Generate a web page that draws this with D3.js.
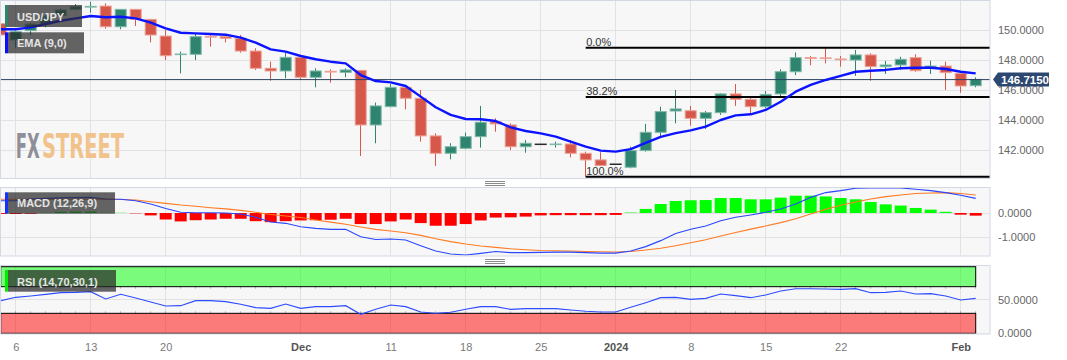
<!DOCTYPE html>
<html><head><meta charset="utf-8">
<script src="https://cdn.jsdelivr.net/npm/d3@7"></script>
<style>
html,body{margin:0;padding:0;background:#fff;}
svg{display:block;font-family:"Liberation Sans",Arial,sans-serif;}
</style></head><body>
<svg id="c" width="1067" height="360"></svg>
<script>
// ---------- DATA ----------
const dates = ['2023-11-03',
 '2023-11-06','2023-11-07','2023-11-08','2023-11-09','2023-11-10',
 '2023-11-13','2023-11-14','2023-11-15','2023-11-16','2023-11-17',
 '2023-11-20','2023-11-21','2023-11-22','2023-11-23','2023-11-24',
 '2023-11-27','2023-11-28','2023-11-29','2023-11-30','2023-12-01',
 '2023-12-04','2023-12-05','2023-12-06','2023-12-07','2023-12-08',
 '2023-12-11','2023-12-12','2023-12-13','2023-12-14','2023-12-15',
 '2023-12-18','2023-12-19','2023-12-20','2023-12-21','2023-12-22',
 '2023-12-25','2023-12-26','2023-12-27','2023-12-28','2023-12-29',
 '2024-01-01','2024-01-02','2024-01-03','2024-01-04','2024-01-05',
 '2024-01-08','2024-01-09','2024-01-10','2024-01-11','2024-01-12',
 '2024-01-15','2024-01-16','2024-01-17','2024-01-18','2024-01-19',
 '2024-01-22','2024-01-23','2024-01-24','2024-01-25','2024-01-26',
 '2024-01-29','2024-01-30','2024-01-31','2024-02-01','2024-02-02'];

const open = [150.45,
 149.36,149.98,150.42,151.0,151.4, 151.55,151.62,150.24,151.4,150.73,
 149.62,148.38,148.4,149.6,149.58, 149.47,148.62,147.47,147.29,148.2,
 146.87,147.27,147.2,147.33,143.69, 144.91,146.2,145.47,142.96,141.8,
 142.13,142.91,143.91,143.69,142.24, 142.4,142.38,142.42,141.8,141.36,
 141.07,140.87,141.98,143.2,144.62, 144.64,144.13,144.51,145.76,145.4,
 144.91,145.76,147.24,148.18,148.16, 148.09,148.02,148.36,147.58,147.69,
 148.18,147.47,147.62,147.13,146.31];
const high = [150.6,
 150.0,150.5,151.0,151.45,151.76, 151.9,151.8,151.4,151.42,150.76,
 150.02,148.58,149.8,149.69,149.73, 149.69,148.8,147.91,148.58,148.36,
 147.47,147.4,147.47,147.36,145.18, 146.42,146.36,146.02,143.13,142.47,
 143.18,144.96,144.13,143.8,142.69, 142.4,142.58,142.69,141.91,141.87,
 141.07,142.24,143.76,144.91,146.02, 144.96,144.62,145.8,146.42,145.53,
 145.96,147.4,148.53,148.29,148.8, 148.29,148.69,148.47,147.96,148.24,
 148.4,147.98,147.91,147.18,146.87];
const low = [149.2,
 148.85,149.7,150.2,150.8,151.33, 151.18,150.11,150.07,150.29,149.2,
 148.02,147.13,148.02,148.91,149.2, 148.51,147.36,146.64,146.8,146.69,
 146.2,146.51,146.87,141.62,142.47, 144.87,144.73,142.58,140.96,141.4,
 142.07,142.18,143.24,142.02,141.84, 142.4,142.18,141.53,140.24,140.98,
 141.07,140.8,141.91,142.87,143.8, 143.64,143.42,144.36,144.96,144.42,
 144.8,145.58,147.02,147.67,147.8, 147.58,146.96,146.64,147.09,147.36,
 147.24,147.09,146.02,145.84,146.2];
const close = [149.69,
 149.91,150.42,150.9,151.36,151.58, 151.6,150.24,151.4,150.73,149.69,
 148.31,148.42,149.58,149.55,149.47, 148.62,147.47,147.29,148.2,146.87,
 147.29,147.22,147.36,143.69,144.96, 146.2,145.47,142.96,141.8,142.24,
 142.91,143.87,143.76,142.24,142.47, 142.4,142.42,141.8,141.36,140.98,
 141.07,141.98,143.2,144.58,144.76, 144.13,144.51,145.76,145.4,144.91,
 145.73,147.24,148.18,148.13,148.13, 148.04,148.36,147.58,147.69,148.07,
 147.31,147.62,147.18,146.29,146.73];
const ema9 = [150.07,
 150.07,150.2,150.42,150.64,150.8, 150.96,150.87,150.91,150.8,150.51,
 150.13,149.84,149.8,149.76,149.71, 149.51,149.18,148.73,148.58,148.29,
 148.07,147.91,147.8,147.02,146.62, 146.53,146.29,145.58,144.87,144.36,
 144.09,144.07,143.95,143.53,143.29, 143.13,142.91,142.58,142.24,141.98,
 141.91,142.08,142.5,142.9,143.15, 143.33,143.58,144.02,144.33,144.4,
 144.69,145.24,145.91,146.36,146.69, 146.96,147.24,147.31,147.36,147.47,
 147.51,147.51,147.42,147.24,147.13];
const macdLine = [0.51,
 0.51,0.58,0.61,0.63,0.64, 0.65,0.58,0.57,0.51,0.375,
 0.19,0.03,0.01,0.01,0.0, -0.04,-0.18,-0.375,-0.43,-0.57,
 -0.64,-0.68,-0.68,-0.99,-1.10, -1.08,-1.125,-1.36,-1.58,-1.71,
 -1.75,-1.68,-1.60,-1.65,-1.65, -1.64,-1.63,-1.63,-1.65,-1.67,
 -1.67,-1.58,-1.40,-1.15,-0.85, -0.68,-0.54,-0.32,-0.18,-0.08,
 0.03,0.17,0.375,0.65,0.85, 0.93,1.03,1.04,1.04,1.04,
 0.99,0.93,0.85,0.74,0.61];
const signalLine = [0.57,
 0.57,0.57,0.57,0.57,0.57, 0.57,0.57,0.56,0.54,0.47,
 0.40,0.33,0.28,0.22,0.17, 0.11,0.03,-0.06,-0.125,-0.19,
 -0.29,-0.38,-0.47,-0.58,-0.68, -0.75,-0.82,-0.93,-1.07,-1.19,
 -1.29,-1.375,-1.43,-1.49,-1.53, -1.56,-1.57,-1.58,-1.60,-1.61,
 -1.625,-1.60,-1.54,-1.47,-1.36, -1.24,-1.11,-0.96,-0.81,-0.67,
 -0.54,-0.40,-0.24,-0.04,0.15, 0.32,0.46,0.58,0.68,0.75,
 0.81,0.83,0.85,0.81,0.75];
const histogram = [-0.04,
 -0.04,-0.03,0.01,0.05,0.06, 0.06,0.012,0.01,-0.015,-0.1,
 -0.27,-0.35,-0.30,-0.27,-0.24, -0.24,-0.34,-0.38,-0.34,-0.31,
 -0.30,-0.28,-0.24,-0.46,-0.46, -0.35,-0.27,-0.42,-0.53,-0.53,
 -0.46,-0.31,-0.19,-0.18,-0.15, -0.1,-0.09,-0.09,-0.09,-0.09,
 -0.08,0.02,0.17,0.375,0.5, 0.53,0.54,0.625,0.625,0.57,
 0.57,0.64,0.72,0.72,0.69, 0.625,0.57,0.46,0.36,0.31,
 0.21,0.14,0.05,-0.07,-0.11];
const rsi = [49,
 54,56,58.5,61,61.5, 62.5,51.5,58.5,53,47,
 41,41.5,49,49,47.5, 43.5,38.5,37.5,44,37.5,
 40,40,41.5,28.5,36, 42.5,40,32,30,31.5,
 36,40,40,36,37, 37,37,35,33,32,
 32,39,46,53.5,54, 51,52.5,59,56.5,53.5,
 57.5,63.5,67,67,66.5, 66,67,61,61.5,63.5,
 59,59.5,56,50,52.5];

const tickDates = ['2023-11-06','2023-11-13','2023-11-20','2023-12-01','2023-12-11','2023-12-18',
 '2023-12-25','2024-01-01','2024-01-08','2024-01-15','2024-01-22','2024-02-01'];
const tickLabels = ['6','13','20','Dec','11','18','25','2024','8','15','22','Feb'];
const boldTicks = ['Dec','2024','Feb'];
const priceTicks = [142,144,146,148,150];
const macdTicks = [0,-1];
const rsiTicks = [50,0];
const fibLabels = ['0.0%','38.2%','100.0%'];
const fibPrices = [148.84,145.555,140.24];
const fibStart = '2023-12-28';
const lastPrice = 146.715;
const rsiUpper = 70, rsiLower = 30;

// ---------- LAYOUT ----------
const svg = d3.select('#c');
const PX1 = 990;
const P = {main:[0.5,178.5], macd:[187.5,256], rsi:[265.5,334]};
const x = d3.scalePoint().domain(dates).range([0.7, 975.7]);
const yP = d3.scaleLinear().domain([140.12,151.99]).range([178.5,0.5]);
const yM = d3.scaleLinear().domain([-1.79,1.07]).range([256,187.3]);
const yR = d3.scaleLinear().domain([0,101.5]).range([333.3,265.7]);
const px = v => Math.floor(v)+0.5;

const UP='#2e846f', DN='#d6584a', UPS='#7fb9a8', DNS='#eca196';
const GRID='#e2e2e4';

function panel(key,id){
  const [t,b]=P[key];
  svg.append('rect').attr('x',0.5).attr('y',t).attr('width',PX1-0.5).attr('height',b-t)
     .attr('fill','#f7f7f7').attr('stroke','#d3d8e5');
  svg.append('clipPath').attr('id',id).append('rect')
     .attr('x',1).attr('y',t+0.5).attr('width',PX1-1.5).attr('height',b-t-1);
  const g = svg.append('g').attr('clip-path',`url(#${id})`);
  g.selectAll('line.vg').data(tickDates).join('line').attr('class','vg')
   .attr('x1',d=>px(x(d))).attr('x2',d=>px(x(d))).attr('y1',t).attr('y2',b)
   .attr('stroke',GRID);
  return g;
}
function hgrid(g,scale,vals){
  g.selectAll(null).data(vals).join('line')
   .attr('x1',0).attr('x2',PX1).attr('y1',d=>px(scale(d))).attr('y2',d=>px(scale(d)))
   .attr('stroke',GRID);
}
function rightAxis(scale,vals){
  const ax = d3.axisRight(scale).tickValues(vals).tickSize(0).tickPadding(8)
     .tickFormat(d=>d.toFixed(4));
  const g = svg.append('g').attr('transform',`translate(${PX1},0)`).call(ax);
  g.select('.domain').remove();
  g.selectAll('text').attr('fill','#666').style('font-size','11px')
   .style('font-family','"Liberation Sans",Arial,sans-serif');
}
function legend(y0,y1,w,accent,label,base){
  svg.append('rect').attr('x',8).attr('y',y0).attr('width',w-8).attr('height',y1-y0)
     .attr('fill','rgba(42,42,42,0.72)');
  svg.append('rect').attr('x',5).attr('y',y0).attr('width',3).attr('height',y1-y0).attr('fill',accent);
  return ()=>svg.append('text').attr('x',17).attr('y',base).text(label)
     .attr('fill','#e4e4e4').style('font-size','11px').style('font-weight','bold');
}
function handle(yc){
  [-2,0,2].forEach(o=>svg.append('line').attr('x1',485).attr('x2',505)
    .attr('y1',yc+o+0.5).attr('y2',yc+o+0.5).attr('stroke','#8a8a8a'));
}

// ---------- MAIN PANEL ----------
const gm = panel('main','clipMain');
hgrid(gm,yP,priceTicks);
// watermark (one text, two coloured parts)
const wm = gm.append('text').attr('y',158)
  .style('font-family','"DejaVu Sans Condensed","DejaVu Sans",sans-serif')
  .style('font-weight','bold').style('font-size','34px');
wm.append('tspan').attr('x',15.7).attr('textLength',24).attr('lengthAdjust','spacingAndGlyphs')
  .attr('fill','#8e8f99').text('FX');
wm.append('tspan').attr('x',42).attr('textLength',82).attr('lengthAdjust','spacingAndGlyphs')
  .attr('fill','#f1c38b').text('STREET');

// candles
const idx = d3.range(dates.length);
const cg = gm.append('g');
idx.forEach(i=>{
  const cx = x(dates[i]);
  const o=open[i], c=close[i], h=high[i], l=low[i];
  if (h===l){
    cg.append('rect').attr('x',cx-6).attr('y',yP(c)-0.75).attr('width',12).attr('height',1.5).attr('fill','#2a2a2a');
    return;
  }
  const up = c>=o;
  const col = up?UP:DN;
  cg.append('line').attr('x1',px(cx)).attr('x2',px(cx)).attr('y1',yP(h)).attr('y2',yP(l))
    .attr('stroke',col).attr('stroke-width',1);
  const yt = yP(Math.max(o,c)), yb = yP(Math.min(o,c));
  cg.append('rect').attr('x',cx-5.5).attr('y',yt).attr('width',11).attr('height',Math.max(0.6,yb-yt))
    .attr('fill',col).attr('stroke',up?UPS:DNS).attr('stroke-width',1);
});
// current price line
gm.append('line').attr('x1',0).attr('x2',PX1).attr('y1',yP(lastPrice)).attr('y2',yP(lastPrice))
  .attr('stroke','#2b4262').attr('stroke-width',1);
// fib lines
fibPrices.forEach((p,i)=>{
  gm.append('line').attr('x1',x(fibStart)).attr('x2',PX1).attr('y1',yP(p)).attr('y2',yP(p))
    .attr('stroke','#000').attr('stroke-width',2);
  gm.append('text').attr('x',x(fibStart)+0.5).attr('y',yP(p)-1.8).text(fibLabels[i])
    .attr('fill','#333').style('font-size','11px');
});
const t1 = legend(5,27,82,UP,'USD/JPY',20.6);
const t2 = legend(32.3,53.3,84,'#0a10ff','EMA (9,0)',47.2);
// EMA
gm.append('path').datum(idx).attr('fill','none').attr('stroke','#0c14ff').attr('stroke-width',2.4)
  .attr('stroke-linejoin','round')
  .attr('d',d3.line().x(i=>x(dates[i])).y(i=>yP(ema9[i])));
t1(); t2();
rightAxis(yP,priceTicks);
// price label
const ly = yP(lastPrice);
svg.append('path').attr('d',`M993,${ly} L998,${ly-7} L1049,${ly-7} L1049,${ly+7} L998,${ly+7} Z`)
  .attr('fill','#2c4770');
svg.append('text').attr('x',1001).attr('y',ly+4).text(lastPrice.toFixed(4))
  .attr('fill','#fff').style('font-size','11.5px').style('font-weight','bold');

handle(183);

// ---------- MACD PANEL ----------
const gmc = panel('macd','clipMacd');
hgrid(gmc,yM,macdTicks);
gmc.selectAll('rect.h').data(idx).join('rect').attr('class','h')
  .attr('x',i=>x(dates[i])-6).attr('width',12)
  .attr('y',i=>yM(Math.max(0,histogram[i])))
  .attr('height',i=>Math.abs(yM(histogram[i])-yM(0)))
  .attr('fill',i=>histogram[i]>=0?'#00ff00':'#ff0000');
const t3 = legend(192.3,213.7,115,'#1530ff','MACD (12,26,9)',207.3);
gmc.append('path').datum(idx).attr('fill','none').attr('stroke','#ff7a22').attr('stroke-width',1.1)
  .attr('d',d3.line().x(i=>x(dates[i])).y(i=>yM(signalLine[i])));
gmc.append('path').datum(idx).attr('fill','none').attr('stroke','#2a46ff').attr('stroke-width',1.1)
  .attr('d',d3.line().x(i=>x(dates[i])).y(i=>yM(macdLine[i])));
t3();
rightAxis(yM,macdTicks);

handle(261);

// ---------- RSI PANEL ----------
const gr = panel('rsi','clipRsi');
hgrid(gr,yR,rsiTicks);
const bx0 = x(dates[0]), bx1 = x(dates[dates.length-1]);
gr.append('rect').attr('x',bx0).attr('y',yR(100)).attr('width',bx1-bx0).attr('height',yR(rsiUpper)-yR(100))
  .attr('fill','rgba(0,255,0,0.5)').attr('stroke','#000').attr('stroke-width',1);
gr.append('rect').attr('x',bx0).attr('y',yR(rsiLower)).attr('width',bx1-bx0).attr('height',yR(0)-yR(rsiLower))
  .attr('fill','rgba(255,0,0,0.5)').attr('stroke','#000').attr('stroke-width',1);
gr.selectAll('line.tk').data(idx).join('line').attr('class','tk')
  .attr('x1',i=>px(x(dates[i]))).attr('x2',i=>px(x(dates[i])))
  .attr('y1',yR(rsiLower)-2).attr('y2',yR(rsiLower)).attr('stroke','rgba(60,60,60,0.35)');
gr.selectAll('line.tk2').data(idx).join('line').attr('class','tk2')
  .attr('x1',i=>px(x(dates[i]))).attr('x2',i=>px(x(dates[i])))
  .attr('y1',yR(rsiUpper)).attr('y2',yR(rsiUpper)+2).attr('stroke','rgba(60,60,60,0.35)');
const t4 = legend(270,291.7,116,'#00ee00','RSI (14,70,30,1)',285.6);
gr.append('path').datum(idx).attr('fill','none').attr('stroke','#2d4cff').attr('stroke-width',1.1)
  .attr('d',d3.line().x(i=>x(dates[i])).y(i=>yR(rsi[i])));
t4();
rightAxis(yR,rsiTicks);

// ---------- X AXIS ----------
const xa = d3.axisBottom(x).tickValues(tickDates).tickSize(0).tickPadding(9)
  .tickFormat((d,i)=>tickLabels[i]);
const gx = svg.append('g').attr('transform','translate(0,334)').call(xa);
gx.select('.domain').remove();
gx.selectAll('text').style('font-size','11px')
  .style('font-family','"Liberation Sans",Arial,sans-serif')
  .attr('fill',(d,i)=>boldTicks.includes(tickLabels[i])?'#555':'#7a7a7a')
  .style('font-weight',(d,i)=>boldTicks.includes(tickLabels[i])?'bold':'normal');
</script>
</body></html>
